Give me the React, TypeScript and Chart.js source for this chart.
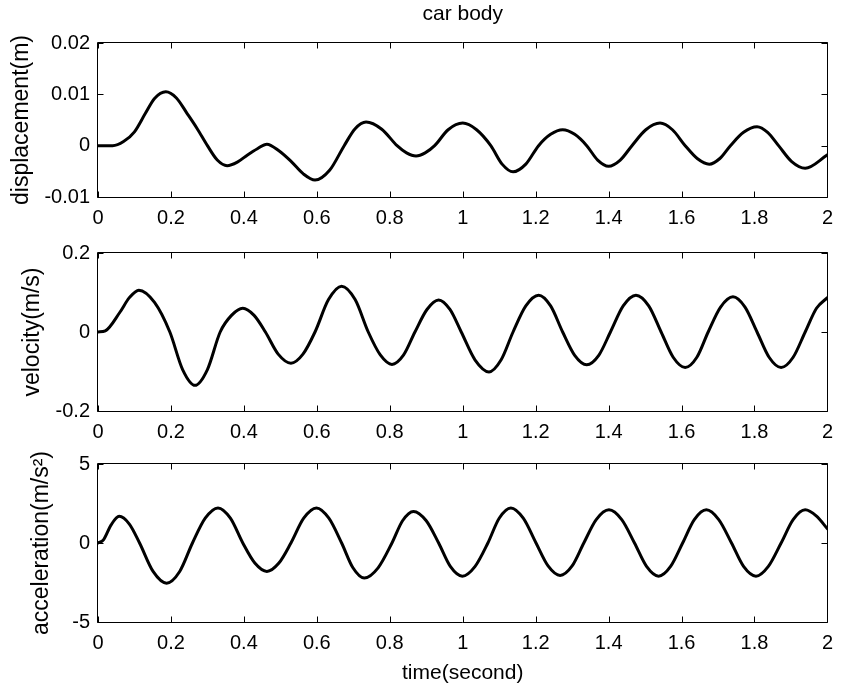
import React, { useEffect, useRef } from 'react';
import { Chart, registerables } from 'chart.js';

Chart.register(...registerables);

const FONT = "'Liberation Sans', Arial, Helvetica, sans-serif";

// ---- data ----
const xTicks = [0, 0.2, 0.4, 0.6, 0.8, 1, 1.2, 1.4, 1.6, 1.8, 2];
const xTickLabels = ['0', '0.2', '0.4', '0.6', '0.8', '1', '1.2', '1.4', '1.6', '1.8', '2'];

const dispTicks = [-0.01, 0, 0.01, 0.02];
const dispTickLabels = ['-0.01', '0', '0.01', '0.02'];
const velTicks = [-0.2, 0, 0.2];
const velTickLabels = ['-0.2', '0', '0.2'];
const accTicks = [-5, 0, 5];
const accTickLabels = ['-5', '0', '5'];

const dispTime = [
  0, 0.04, 0.07, 0.1, 0.13, 0.155, 0.186, 0.215, 0.244, 0.272, 0.3, 0.327, 0.354, 0.382, 0.41, 0.437, 0.463,
  0.496, 0.53, 0.563, 0.595, 0.635, 0.675, 0.705, 0.735, 0.778, 0.82, 0.846, 0.872, 0.897, 0.923, 0.96, 1.0,
  1.038, 1.077, 1.108, 1.138, 1.173, 1.208, 1.241, 1.274, 1.307, 1.34, 1.37, 1.4, 1.432, 1.464, 1.502, 1.541,
  1.575, 1.61, 1.643, 1.676, 1.705, 1.734, 1.77, 1.807, 1.836, 1.866, 1.902, 1.939, 2,
];
const dispValue = [
  0, 0, 0.0008, 0.0027, 0.0063, 0.0092, 0.0105, 0.0093, 0.0063, 0.0033, 0, -0.0028, -0.0039, -0.0032, -0.0018, -0.0006, 0.0003,
  -0.001, -0.0031, -0.0055, -0.0067, -0.0048, 0, 0.0033, 0.0046, 0.0032, 0, -0.0014, -0.002, -0.0014, 0, 0.0031, 0.0044,
  0.0031, 0, -0.0036, -0.0051, -0.0036, 0, 0.0022, 0.0031, 0.0022, 0, -0.0028, -0.004, -0.0028, 0, 0.0031, 0.0044,
  0.0031, 0, -0.0025, -0.0036, -0.0025, 0, 0.0026, 0.0037, 0.0026, 0, -0.0031, -0.0044, -0.0018,
];

const velTime = [
  0, 0.02, 0.06, 0.086, 0.112, 0.155, 0.197, 0.232, 0.266, 0.3, 0.335, 0.366, 0.397, 0.428, 0.459, 0.494, 0.529,
  0.562, 0.595, 0.632, 0.668, 0.705, 0.741, 0.774, 0.806, 0.838, 0.869, 0.902, 0.934, 0.965, 0.996, 1.034, 1.072,
  1.105, 1.138, 1.173, 1.208, 1.241, 1.274, 1.307, 1.34, 1.373, 1.405, 1.44, 1.475, 1.51, 1.544, 1.577, 1.61,
  1.642, 1.673, 1.707, 1.741, 1.774, 1.807, 1.84, 1.873, 1.906, 1.939, 1.97, 2,
];
const velValue = [
  0, 0.003, 0.05, 0.087, 0.106, 0.075, 0, -0.095, -0.135, -0.095, 0, 0.042, 0.06, 0.042, 0, -0.056, -0.079,
  -0.056, 0, 0.082, 0.116, 0.082, 0, -0.058, -0.082, -0.058, 0, 0.057, 0.081, 0.057, 0, -0.071, -0.101,
  -0.071, 0, 0.066, 0.093, 0.066, 0, -0.059, -0.083, -0.059, 0, 0.066, 0.093, 0.066, 0, -0.064, -0.09,
  -0.064, 0, 0.063, 0.089, 0.063, 0, -0.064, -0.09, -0.064, 0, 0.06, 0.087,
];

const accTime = [
  0, 0.015, 0.036, 0.058, 0.086, 0.114, 0.151, 0.188, 0.224, 0.259, 0.294, 0.329, 0.363, 0.397, 0.43, 0.463,
  0.496, 0.529, 0.564, 0.599, 0.633, 0.668, 0.699, 0.73, 0.768, 0.806, 0.835, 0.865, 0.9, 0.934, 0.966, 0.999,
  1.034, 1.069, 1.1, 1.132, 1.166, 1.201, 1.234, 1.267, 1.3, 1.332, 1.366, 1.401, 1.436, 1.471, 1.504, 1.537,
  1.57, 1.603, 1.635, 1.668, 1.702, 1.737, 1.77, 1.804, 1.838, 1.873, 1.906, 1.939, 1.97, 2,
];
const accValue = [
  0, 0.2, 1.15, 1.69, 1.2, 0, -1.8, -2.54, -1.8, 0, 1.57, 2.22, 1.57, 0, -1.27, -1.8,
  -1.27, 0, 1.57, 2.22, 1.57, 0, -1.57, -2.22, -1.57, 0, 1.41, 2.0, 1.41, 0, -1.48, -2.1,
  -1.48, 0, 1.57, 2.22, 1.57, 0, -1.45, -2.05, -1.45, 0, 1.48, 2.1, 1.48, 0, -1.48, -2.1,
  -1.48, 0, 1.48, 2.1, 1.48, 0, -1.48, -2.1, -1.48, 0, 1.48, 2.1, 1.7, 0.9,
];

// ---- layout ----
type Panel = {
  top: number;
  height: number;
  plotTop: number;
  plotBottom: number;
  time: number[];
  values: number[];
  yTicks: number[];
  yLabels: string[];
  yTitle: string;
  yTitlePad: number;
  title?: string;
  xTitle?: string;
};

const panels: Panel[] = [
  { top: 0, height: 240, plotTop: 43, plotBottom: 197, time: dispTime, values: dispValue, yTicks: dispTicks, yLabels: dispTickLabels, yTitle: 'displacement(m)', yTitlePad: 8, title: 'car body' },
  { top: 230, height: 220, plotTop: 23, plotBottom: 181, time: velTime, values: velValue, yTicks: velTicks, yLabels: velTickLabels, yTitle: 'velocity(m/s)', yTitlePad: 19 },
  { top: 440, height: 249, plotTop: 24, plotBottom: 182, time: accTime, values: accValue, yTicks: accTicks, yLabels: accTickLabels, yTitle: 'acceleration(m/s²)', yTitlePad: 28, xTitle: 'time(second)' },
];

const PLOT_LEFT = 98;
const PLOT_RIGHT = 833;
const W = 842;

const frameTicks = {
  id: 'frameTicks',
  afterDatasetsDraw(chart: any) {
    const { ctx, chartArea } = chart;
    const xs = chart.scales.x;
    const ys = chart.scales.y;
    const L = Math.round(chartArea.left) - 0.5;
    const R = Math.round(chartArea.right) + 0.5;
    const T = Math.round(chartArea.top) - 0.5;
    const B = Math.round(chartArea.bottom) + 0.5;
    const len = 6;
    ctx.save();
    ctx.strokeStyle = '#000';
    ctx.lineWidth = 1;
    ctx.beginPath();
    ctx.rect(L, T, R - L, B - T);
    xs.ticks.forEach((t: any) => {
      const px = Math.round(xs.getPixelForValue(t.value)) + 0.5;
      ctx.moveTo(px, B);
      ctx.lineTo(px, B - len);
      ctx.moveTo(px, T);
      ctx.lineTo(px, T + len);
    });
    ys.ticks.forEach((t: any) => {
      const py = Math.round(ys.getPixelForValue(t.value)) + 0.5;
      ctx.moveTo(L, py);
      ctx.lineTo(L + len, py);
      ctx.moveTo(R, py);
      ctx.lineTo(R - len, py);
    });
    ctx.stroke();
    ctx.restore();
  },
};

function SubPlot({ p }: { p: Panel }) {
  const ref = useRef<HTMLCanvasElement | null>(null);
  useEffect(() => {
    if (!ref.current) return;
    const yMin = p.yTicks[0];
    const yMax = p.yTicks[p.yTicks.length - 1];
    const chart = new Chart(ref.current, {
      type: 'line',
      data: {
        datasets: [
          {
            data: p.time.map((t, i) => ({ x: t, y: p.values[i] })),
            borderColor: '#000',
            borderWidth: 3,
            pointRadius: 0,
            cubicInterpolationMode: 'monotone',
            borderJoinStyle: 'round',
            borderCapStyle: 'round',
            fill: false,
          } as any,
        ],
      },
      options: {
        animation: false,
        responsive: false,
        maintainAspectRatio: false,
        events: [],
        layout: { padding: { left: 0, right: W - PLOT_RIGHT, top: p.title ? 0 : p.plotTop, bottom: 0 } },
        plugins: {
          legend: { display: false },
          tooltip: { enabled: false },
          title: p.title
            ? {
                display: true,
                text: p.title,
                fullSize: false,
                color: '#000',
                font: { family: FONT, size: 21, weight: 'normal' },
                padding: { top: 1.4, bottom: p.plotTop - 25.2 - 1.4 },
              }
            : { display: false },
        },
        scales: {
          x: {
            type: 'linear',
            min: 0,
            max: 2,
            afterBuildTicks: (s: any) => {
              s.ticks = xTicks.map((v) => ({ value: v }));
            },
            afterFit: (s: any) => {
              s.height = p.height - p.plotBottom;
            },
            grid: { display: false, drawTicks: false },
            border: { display: false },
            ticks: {
              color: '#000',
              padding: 9,
              maxRotation: 0,
              autoSkip: false,
              font: { family: FONT, size: 20 },
              callback: (_v: any, i: number) => xTickLabels[i],
            },
            title: p.xTitle
              ? {
                  display: true,
                  text: p.xTitle,
                  color: '#000',
                  font: { family: FONT, size: 21 },
                  padding: { top: 0, bottom: 3.4 },
                }
              : { display: false },
          },
          y: {
            type: 'linear',
            min: yMin,
            max: yMax,
            afterBuildTicks: (s: any) => {
              s.ticks = p.yTicks.map((v) => ({ value: v }));
            },
            afterFit: (s: any) => {
              s.width = PLOT_LEFT;
            },
            grid: { display: false, drawTicks: false },
            border: { display: false },
            ticks: {
              color: '#000',
              padding: 8,
              autoSkip: false,
              font: { family: FONT, size: 20 },
              callback: (_v: any, i: number) => p.yLabels[i],
            },
            title: {
              display: true,
              text: p.yTitle,
              color: '#000',
              font: { family: FONT, size: 23 },
              padding: { top: p.yTitlePad, bottom: 0 },
            },
          },
        },
      } as any,
      plugins: [frameTicks],
    });
    return () => chart.destroy();
  }, [p]);

  return (
    <canvas
      ref={ref}
      width={W}
      height={p.height}
      style={{ position: 'absolute', left: 0, top: p.top, width: W, height: p.height }}
    />
  );
}

export default function App() {
  return (
    <div style={{ position: 'absolute', left: 0, top: 0, width: W, height: 689, background: '#fff', overflow: 'hidden' }}>
      {panels.map((p, i) => (
        <SubPlot key={i} p={p} />
      ))}
    </div>
  );
}
